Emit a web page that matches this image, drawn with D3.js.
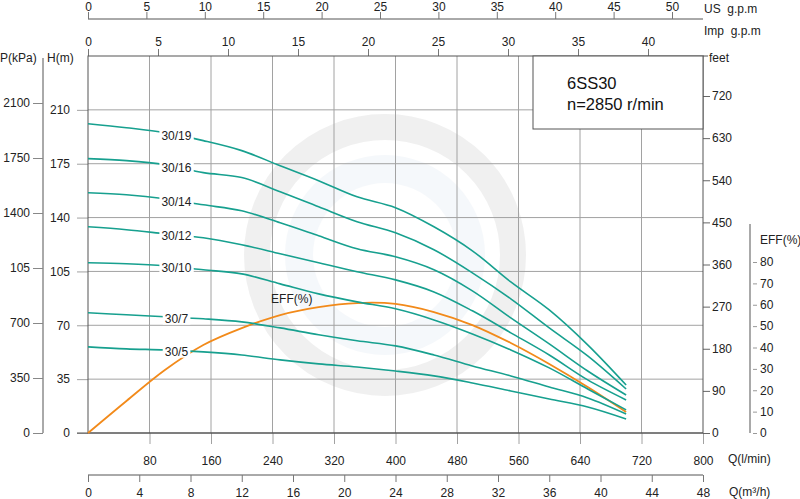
<!DOCTYPE html>
<html>
<head>
<meta charset="utf-8">
<script src="https://cdn.jsdelivr.net/npm/d3@7/dist/d3.min.js"></script>
<style>
  html, body { margin: 0; padding: 0; background: #fff; }
  svg { display: block; font-family: "Liberation Sans", Arial, sans-serif; }
  .tick text { fill: #222; font-size: 12px; }
  .lbl { fill: #222; font-size: 12px; white-space: pre; }
</style>
</head>
<body>
<svg id="chart" width="800" height="499"></svg>
<script>
// ---------------- data ----------------
const flowLmin = [0, 50, 100, 150, 200, 250, 300, 350, 400, 450, 500, 550, 600, 650, 700];
const curveNames = ["30/19", "30/16", "30/14", "30/12", "30/10", "30/7", "30/5"];
const head_30_19 = [201.0, 198.4, 195.2, 190.0, 183.5, 173.7, 164.0, 153.5, 146.4, 134.0, 118.4, 98.2, 80.0, 57.3, 31.2];
const head_30_16 = [178.3, 177.0, 174.4, 169.2, 166.0, 156.8, 147.0, 137.3, 130.1, 119.1, 104.1, 87.2, 68.3, 50.1, 28.6];
const head_30_14 = [156.1, 154.8, 152.2, 148.3, 144.4, 136.6, 128.2, 119.7, 114.5, 106.1, 92.4, 74.8, 57.9, 40.3, 24.7];
const head_30_12 = [134.0, 132.1, 129.5, 126.9, 122.3, 116.5, 110.6, 104.8, 99.5, 91.7, 79.4, 65.1, 50.7, 34.5, 21.5];
const head_30_10 = [110.6, 110.0, 108.7, 106.1, 103.4, 96.9, 90.4, 85.2, 80.7, 73.5, 64.4, 54.0, 42.3, 28.6, 15.0];
const head_30_7  = [78.1, 76.8, 75.5, 74.2, 72.2, 68.3, 63.8, 59.9, 56.6, 50.7, 43.6, 37.1, 29.9, 22.8, 12.4];
const head_30_5  = [56.0, 54.7, 54.0, 52.7, 50.7, 47.5, 44.9, 42.9, 40.3, 37.1, 32.5, 27.3, 22.1, 16.9, 9.1];
const effValues  = [0, 15.0, 29.5, 41.2, 49.1, 55.2, 58.9, 60.8, 60.4, 56.6, 50.5, 42.1, 32.3, 21.5, 9.8];
const headSeries = [head_30_19, head_30_16, head_30_14, head_30_12, head_30_10, head_30_7, head_30_5];

const usGpmTicks = [0, 5, 10, 15, 20, 25, 30, 35, 40, 45, 50];
const impGpmTicks = [0, 5, 10, 15, 20, 25, 30, 35, 40];
const lminTicks = [80, 160, 240, 320, 400, 480, 560, 640, 720, 800];
const m3hTicks = [0, 4, 8, 12, 16, 20, 24, 28, 32, 36, 40, 44, 48];
const kpaTicks = [0, 350, 700, 1050, 1400, 1750, 2100];
const kpaLabels = ["0", "350", "700", "105", "1400", "1750", "2100"];
const headTicks = [0, 35, 70, 105, 140, 175, 210];
const feetTicks = [0, 90, 180, 270, 360, 450, 540, 630, 720];
const effTicks = [0, 10, 20, 30, 40, 50, 60, 70, 80];
const modelName = "6SS30";
const speedText = "n=2850 r/min";

// ---------------- layout ----------------
const X0 = 88, X1 = 703, Y0 = 433, Y1 = 56;
const svg = d3.select("#chart");
const axisCol = "#555", gridCol = "#a2a2a2";

const x = d3.scaleLinear().domain([0, 800]).range([X0, X1]);
const xM3h = d3.scaleLinear().domain([0, 48]).range([X0, X1]);
const xUs = d3.scaleLinear().domain([0, 50]).range([X0, 672]);
const xImp = d3.scaleLinear().domain([0, 40]).range([X0, 648]);
const yH = d3.scaleLinear().domain([0, 245]).range([Y0, Y1]);
const yP = d3.scaleLinear().domain([0, 2100]).range([Y0, 103]);
const yFt = d3.scaleLinear().domain([0, 720]).range([Y0, 96]);
const yEff = d3.scaleLinear().domain([0, 80]).range([Y0, 262]);

// watermark
const wm = svg.append("g").attr("opacity", 0.42);
wm.append("circle").attr("cx", 385).attr("cy", 255).attr("r", 100).attr("fill", "#e9eff6");
wm.append("circle").attr("cx", 385).attr("cy", 255).attr("r", 128).attr("fill", "none")
  .attr("stroke", "#dcdcdc").attr("stroke-width", 26);
wm.append("circle").attr("cx", 385).attr("cy", 255).attr("r", 72).attr("fill", "#fff");

// grid
const grid = svg.append("g");
grid.selectAll("line.v").data(lminTicks.filter(d => d < 800)).join("line")
  .attr("x1", d => x(d)).attr("x2", d => x(d)).attr("y1", Y1).attr("y2", Y0)
  .attr("stroke", gridCol).attr("stroke-width", 1);
grid.selectAll("line.h").data(headTicks.filter(d => d > 0)).join("line")
  .attr("x1", X0).attr("x2", X1).attr("y1", d => yH(d)).attr("y2", d => yH(d))
  .attr("stroke", gridCol).attr("stroke-width", 1);

function styleAxis(g, col) {
  g.selectAll(".domain").remove();
  g.selectAll(".tick line").attr("stroke", col || "#777");
  g.attr("font-family", null).attr("font-size", null);
}

// top axes
svg.append("line").attr("x1", X0).attr("x2", X1).attr("y1", 19).attr("y2", 19).attr("stroke", axisCol);
svg.append("g").attr("transform", "translate(0,19)")
  .call(d3.axisTop(xUs).tickValues(usGpmTicks).tickSize(7).tickPadding(1))
  .call(g => styleAxis(g));
svg.append("g").attr("transform", `translate(0,${Y1})`)
  .call(d3.axisTop(xImp).tickValues(impGpmTicks).tickSize(7).tickPadding(3))
  .call(g => styleAxis(g));
svg.append("text").attr("class", "lbl").attr("x", 704).attr("y", 13).text("US  g.p.m");
svg.append("text").attr("class", "lbl").attr("x", 704).attr("y", 35).text("Imp  g.p.m");

// bottom axes
svg.append("g").attr("transform", `translate(0,${Y0})`)
  .call(d3.axisBottom(x).tickValues(lminTicks).tickSize(11).tickPadding(12))
  .call(g => styleAxis(g, gridCol));
svg.append("text").attr("class", "lbl").attr("x", 728).attr("y", 463).text("Q(l/min)");
svg.append("line").attr("x1", X0).attr("x2", X1).attr("y1", 475).attr("y2", 475).attr("stroke", axisCol);
svg.append("g").attr("transform", "translate(0,475)")
  .call(d3.axisBottom(xM3h).tickValues(m3hTicks).tickSize(7).tickPadding(6))
  .call(g => styleAxis(g));
svg.append("text").attr("class", "lbl").attr("x", 729).attr("y", 496).text("Q(m³/h)");

// left axes
svg.append("g").attr("transform", `translate(${X0},0)`)
  .call(d3.axisLeft(yH).tickValues(headTicks).tickSize(11).tickPadding(7))
  .call(g => styleAxis(g, gridCol));
svg.append("line").attr("x1", 43).attr("x2", 43).attr("y1", Y1 + 2).attr("y2", Y0).attr("stroke", axisCol);
svg.append("g").attr("transform", "translate(43,0)")
  .call(d3.axisLeft(yP).tickValues(kpaTicks).tickSize(10).tickPadding(3)
    .tickFormat((d, i) => kpaLabels[i]))
  .call(g => styleAxis(g, "#888"));
svg.append("text").attr("class", "lbl").attr("x", 0).attr("y", 62).text("P(kPa)");
svg.append("text").attr("class", "lbl").attr("x", 47).attr("y", 62).text("H(m)");

// right axes
svg.append("g").attr("transform", `translate(${X1},0)`)
  .call(d3.axisRight(yFt).tickValues(feetTicks).tickSize(7).tickPadding(2))
  .call(g => styleAxis(g, "#666"));
svg.append("line").attr("x1", X1).attr("x2", X1 + 5).attr("y1", Y1).attr("y2", Y1).attr("stroke", axisCol);
svg.append("text").attr("class", "lbl").attr("x", 709).attr("y", 62).text("feet");

svg.append("line").attr("x1", 750).attr("x2", 750).attr("y1", 224).attr("y2", Y0).attr("stroke", axisCol);
svg.append("g").attr("transform", "translate(750,0)")
  .call(d3.axisRight(yEff).tickValues(effTicks).tickSize(7).tickPadding(3))
  .call(g => { styleAxis(g, "#999"); g.selectAll(".tick line").attr("x1", 3); });
svg.append("text").attr("class", "lbl").attr("x", 760).attr("y", 244).text("EFF(%)");

// frame
svg.append("rect").attr("x", X0).attr("y", Y1).attr("width", X1 - X0).attr("height", Y0 - Y1)
  .attr("fill", "none").attr("stroke", axisCol).attr("stroke-width", 1);
svg.append("line").attr("x1", 77).attr("x2", X1).attr("y1", Y0).attr("y2", Y0).attr("stroke", axisCol);

// info box
svg.append("rect").attr("x", 533).attr("y", Y1).attr("width", X1 - 533).attr("height", 73)
  .attr("fill", "#fff").attr("stroke", axisCol);
svg.append("text").attr("x", 567).attr("y", 89).attr("font-size", 16.5).attr("fill", "#111").text(modelName);
svg.append("text").attr("x", 567).attr("y", 110).attr("font-size", 16.5).attr("fill", "#111").text(speedText);

// curves
const teal = "#17a08f", orange = "#f28a1a";
const lineH = d3.line().x((d, i) => x(flowLmin[i])).y(d => yH(d)).curve(d3.curveCatmullRom.alpha(0.5));
const lineE = d3.line().x((d, i) => x(flowLmin[i])).y(d => yEff(d)).curve(d3.curveCatmullRom.alpha(0.5));

svg.append("path").datum(effValues).attr("d", lineE).attr("fill", "none")
  .attr("stroke", orange).attr("stroke-width", 1.8);
svg.selectAll("path.h").data(headSeries).join("path").attr("class", "h")
  .attr("d", lineH).attr("fill", "none").attr("stroke", teal).attr("stroke-width", 1.6);

// curve labels
const labelQ = 115;
function interp(arr, q) {
  return d3.scaleLinear().domain(flowLmin).range(arr)(q);
}
const lg = svg.append("g");
headSeries.forEach((arr, i) => {
  const cx = x(labelQ), cy = yH(interp(arr, labelQ)) + 1;
  const t = lg.append("text").attr("x", cx).attr("y", cy).attr("dy", "0.35em")
    .attr("text-anchor", "middle").attr("font-size", 12).attr("fill", "#222").text(curveNames[i]);
  const bb = t.node().getBBox();
  lg.insert("rect", "text").attr("x", bb.x - 2).attr("y", bb.y + 1).attr("width", bb.width + 4)
    .attr("height", bb.height - 2).attr("fill", "#fff");
});
svg.append("text").attr("x", x(265)).attr("y", yEff(interp(effValues, 265)) - 10)
  .attr("text-anchor", "middle").attr("font-size", 12).attr("fill", "#222").text("EFF(%)");
</script>
</body>
</html>
